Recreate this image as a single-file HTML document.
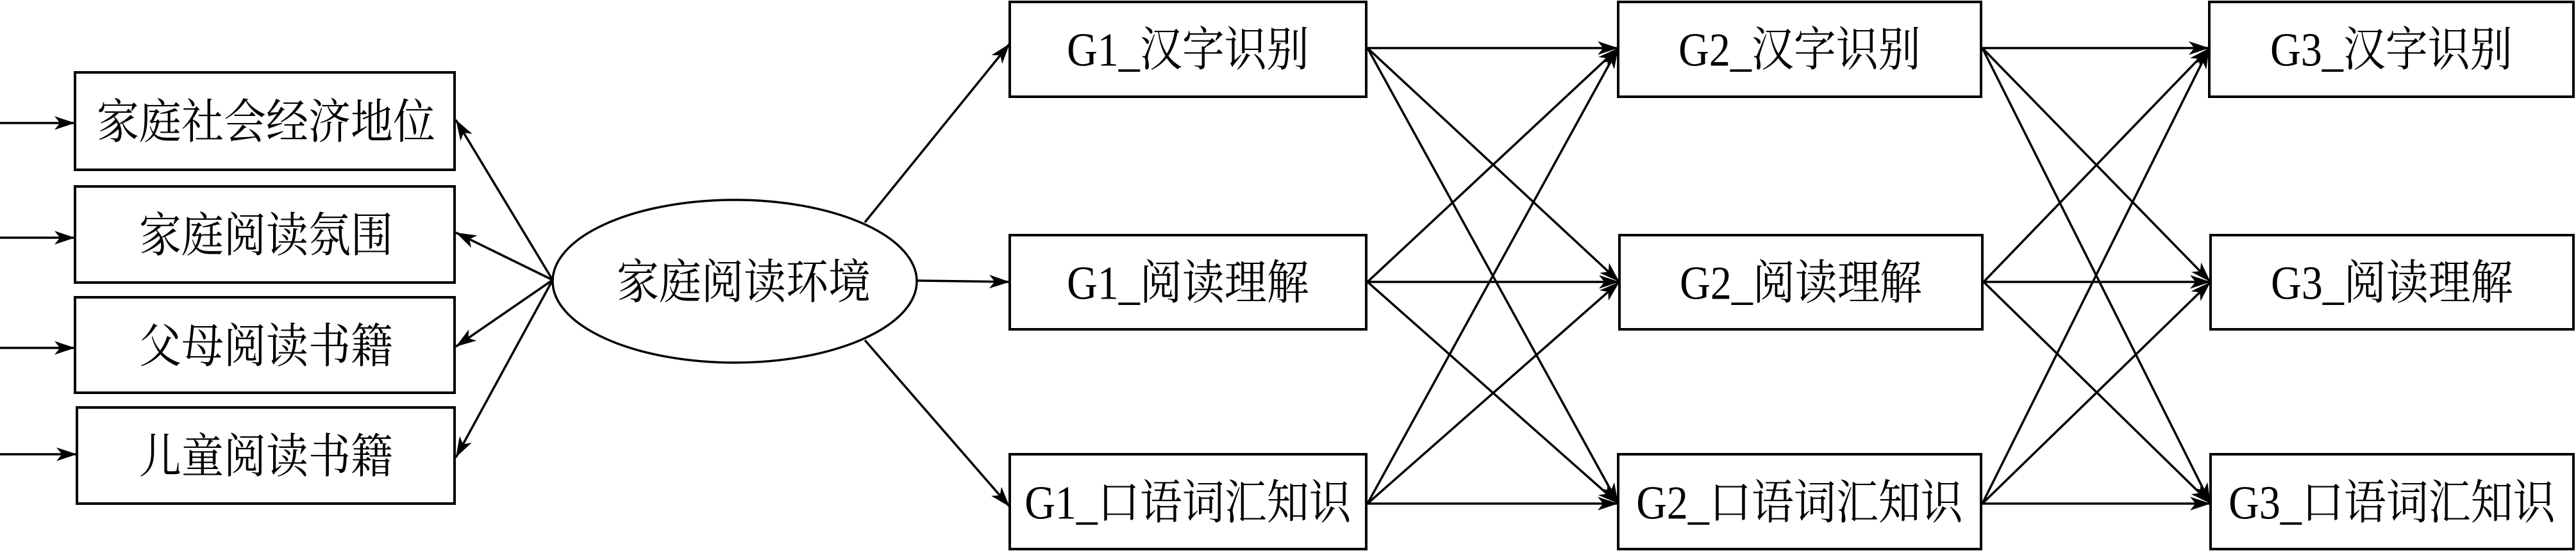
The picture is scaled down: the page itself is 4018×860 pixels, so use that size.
<!DOCTYPE html>
<html><head><meta charset="utf-8"><style>
html,body{margin:0;padding:0;background:#fff;}
svg{display:block}
text{font-family:"Liberation Serif","Noto Serif CJK SC",serif;font-size:66px;fill:#000;transform-box:fill-box;transform-origin:center;transform:scaleY(1.12)}
</style></head><body>
<svg width="4018" height="860" viewBox="0 0 4018 860" xmlns="http://www.w3.org/2000/svg">
<defs>
<marker id="h" viewBox="0 0 30 20" refX="30" refY="10" markerWidth="32" markerHeight="22" orient="auto" markerUnits="userSpaceOnUse">
<path d="M0,0 L30,10 L0,20 L8,10 Z" fill="#000"/>
</marker>
</defs>
<g fill="none" stroke="#000" stroke-width="4">
<rect x="117" y="113" width="592" height="152"/>
<rect x="117" y="291" width="592" height="150"/>
<rect x="117" y="464" width="592" height="149"/>
<rect x="120" y="636" width="589" height="150"/>
<ellipse cx="1146" cy="439" rx="284" ry="127" stroke-width="3.5"/>
<rect x="1575" y="3" width="556" height="148"/>
<rect x="1575" y="367" width="556" height="147"/>
<rect x="1575" y="709" width="556" height="148"/>
<rect x="2524" y="3" width="566" height="148"/>
<rect x="2526" y="367" width="566" height="147"/>
<rect x="2524" y="709" width="566" height="148"/>
<rect x="3446" y="3" width="568" height="148"/>
<rect x="3448" y="367" width="566" height="147"/>
<rect x="3448" y="709" width="566" height="148"/>
</g>
<g stroke="#000" stroke-width="3.5" fill="none" marker-end="url(#h)">
<line x1="0" y1="192" x2="117" y2="192"/>
<line x1="0" y1="371" x2="117" y2="371"/>
<line x1="0" y1="543" x2="117" y2="543"/>
<line x1="0" y1="709" x2="120" y2="709"/>
<line x1="862" y1="437" x2="711" y2="187"/>
<line x1="862" y1="437" x2="711" y2="363"/>
<line x1="862" y1="437" x2="711" y2="541"/>
<line x1="862" y1="437" x2="711" y2="714"/>
<line x1="1349" y1="347" x2="1575" y2="68"/>
<line x1="1431" y1="438" x2="1575" y2="440"/>
<line x1="1349" y1="531" x2="1575" y2="791"/>
<line x1="2133" y1="75" x2="2524" y2="75"/>
<line x1="2133" y1="75" x2="2526" y2="440"/>
<line x1="2133" y1="75" x2="2524" y2="786"/>
<line x1="2133" y1="440" x2="2524" y2="75"/>
<line x1="2133" y1="440" x2="2526" y2="440"/>
<line x1="2133" y1="440" x2="2524" y2="786"/>
<line x1="2133" y1="786" x2="2524" y2="75"/>
<line x1="2133" y1="786" x2="2526" y2="440"/>
<line x1="2133" y1="786" x2="2524" y2="786"/>
<line x1="3092" y1="75" x2="3446" y2="75"/>
<line x1="3092" y1="75" x2="3448" y2="440"/>
<line x1="3092" y1="75" x2="3448" y2="786"/>
<line x1="3094" y1="440" x2="3446" y2="75"/>
<line x1="3094" y1="440" x2="3448" y2="440"/>
<line x1="3094" y1="440" x2="3448" y2="786"/>
<line x1="3092" y1="786" x2="3446" y2="75"/>
<line x1="3092" y1="786" x2="3448" y2="440"/>
<line x1="3092" y1="786" x2="3448" y2="786"/>
</g>
<g text-anchor="middle">
<text x="415" y="213">家庭社会经济地位</text>
<text x="415" y="390">家庭阅读氛围</text>
<text x="415" y="563">父母阅读书籍</text>
<text x="415" y="735">儿童阅读书籍</text>
<text x="1160" y="463">家庭阅读环境</text>
<text x="1853" y="100">G1_汉字识别</text>
<text x="1853" y="464">G1_阅读理解</text>
<text x="1853" y="807">G1_口语词汇知识</text>
<text x="2807" y="100">G2_汉字识别</text>
<text x="2809" y="464">G2_阅读理解</text>
<text x="2807" y="807">G2_口语词汇知识</text>
<text x="3730" y="100">G3_汉字识别</text>
<text x="3731" y="464">G3_阅读理解</text>
<text x="3731" y="807">G3_口语词汇知识</text>
</g>
</svg>
</body></html>
